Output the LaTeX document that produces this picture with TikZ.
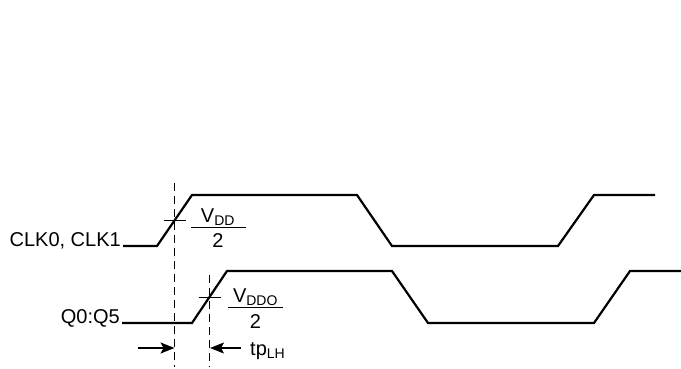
\documentclass[tikz,border=0pt]{standalone}
\usepackage{fontspec}
\setmainfont{Liberation Sans}
\usetikzlibrary{arrows.meta}
\begin{document}
\begin{tikzpicture}[x=1pt,y=-1pt,
    font=\fontsize{20pt}{24pt}\selectfont,
    wave/.style={line width=2.2pt,line join=miter},
    guide/.style={dash pattern=on 8pt off 5pt,line width=1pt},
    tick/.style={line width=1pt},
    lbl/.style={inner sep=0pt},
    delay/.style={line width=1.2pt,-{Stealth[length=14pt,width=11pt,inset=3pt]}}]
    \useasboundingbox (0,0) rectangle (681,369);

    % signal names
    \node [lbl,anchor=base east] (clk) at (121,246) {CLK0, CLK1};
    \node [lbl,anchor=base east] (q) at (120,323) {Q0:Q5};

    % input and output waveforms
    \draw [wave] (clk.base east) ++(2,0) -- (157,246) -- (192,195) -- (357,195)
        -- (392,246) -- (558,246) -- (594,195) -- (655,195);
    \draw [wave] (q.base east) ++(2,0) -- (192,323) -- (227,271) -- (392,271)
        -- (428,323) -- (594,323) -- (630,271) -- (681,271);

    % half-supply crossings
    \coordinate (cin) at (174.5,220.5);
    \coordinate (cout) at (209.5,297);
    \draw [tick] (cin) ++(-11,0) -- ++(22,0);
    \draw [tick] (cout) ++(-11,0) -- ++(22,0);
    \draw [guide] (cin |- 0,183) -- (cin |- 0,367);
    \draw [guide] (cout |- 0,275) -- (cout |- 0,367);

    % threshold fractions
    \node [lbl,anchor=base] (vdd) at (218,222) {V\textsubscript{DD}};
    \node [lbl,anchor=base] (half) at (218,247.5) {2};
    \draw [tick] (191,227) -- (246,227);
    \node [lbl,anchor=base] (vddo) at (255.5,302) {V\textsubscript{DDO}};
    \node [lbl,anchor=base] (halfo) at (255.5,328) {2};
    \draw [tick] (228,307) -- (283,307);

    % propagation delay
    \coordinate (ain) at (138,348);
    \coordinate (aout) at (241,348);
    \draw [delay] (ain) -- (cin |- ain);
    \draw [delay] (aout) -- ([xshift=0.5pt]cout |- aout);
    \node [lbl,anchor=base west] (tplh) at (250,355) {tp\textsubscript{LH}};
\end{tikzpicture}
\end{document}
